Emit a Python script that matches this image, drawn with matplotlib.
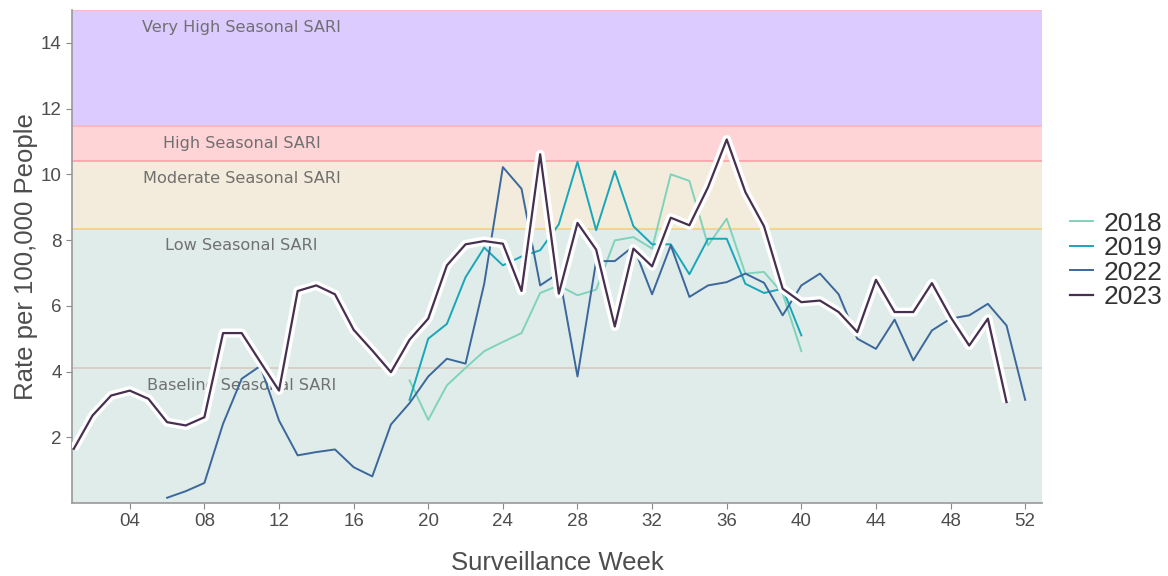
import matplotlib.pyplot as plt
import numpy as np

# weekly SARI rates per 100,000 people
weeks_2018 = list(range(19, 41))
rate_2018 = [3.73, 2.53, 3.58, 4.11, 4.62, 4.90, 5.17, 6.39, 6.62, 6.32, 6.49, 7.99,
             8.09, 7.74, 10.0, 9.80, 7.84, 8.65, 6.98, 7.03, 6.37, 4.62]

weeks_2019 = list(range(19, 41))
rate_2019 = [3.14, 5.00, 5.45, 6.87, 7.77, 7.23, 7.50, 7.69, 8.48, 10.38, 8.30, 10.10,
             8.42, 7.87, 7.87, 6.96, 8.04, 8.04, 6.67, 6.39, 6.52, 5.10]

weeks_2022 = list(range(6, 53))
rate_2022 = [0.16, 0.36, 0.61, 2.41, 3.78, 4.17, 2.51, 1.45, 1.55, 1.63, 1.09, 0.81,
             2.39, 3.04, 3.85, 4.39, 4.24, 6.67, 10.22, 9.56, 6.62, 7.00, 3.85, 7.36,
             7.36, 7.81, 6.35, 7.84, 6.27, 6.62, 6.72, 6.98, 6.70, 5.71, 6.62, 6.98,
             6.35, 5.00, 4.69, 5.58, 4.34, 5.25, 5.61, 5.71, 6.06, 5.40, 3.14]

weeks_2023 = list(range(1, 52))
rate_2023 = [1.65, 2.66, 3.27, 3.42, 3.17, 2.46, 2.36, 2.61, 5.17, 5.17, 4.29, 3.42,
             6.45, 6.62, 6.35, 5.27, 4.64, 3.98, 4.97, 5.61, 7.23, 7.87, 7.97, 7.89,
             6.45, 10.61, 6.37, 8.52, 7.71, 5.37, 7.74, 7.20, 8.68, 8.45, 9.61, 11.06,
             9.46, 8.42, 6.52, 6.11, 6.16, 5.81, 5.20, 6.79, 5.81, 5.81, 6.69, 5.66,
             4.79, 5.61, 3.07]

# activity thresholds
band_names = ['Baseline Seasonal SARI', 'Low Seasonal SARI', 'Moderate Seasonal SARI',
              'High Seasonal SARI', 'Very High Seasonal SARI']
band_edges = [0, 4.1, 8.35, 10.4, 11.47, 15]
band_label_y = [3.58, 7.84, 9.88, 10.94, 14.47]

fills = ['#e0ecea', '#e0ecea', '#f3ecdc', '#ffd4d6', '#dccbff']
edges = ['#d6cbc0', '#f2d27a', '#ff9ea6', '#ffb3bc', '#ffb3bc']

plt.rcParams['font.family'] = 'Liberation Sans'
fig = plt.figure(figsize=(11.68, 5.76), dpi=100)
ax = fig.add_axes([0.0616, 0.1267, 0.8305, 0.856])

for i in range(len(band_names)):
    ax.axhspan(band_edges[i], band_edges[i + 1], color=fills[i], lw=0, zorder=0)
    ax.axhline(band_edges[i + 1], color=edges[i], lw=1.2, zorder=0.5)
    ax.text(10, band_label_y[i], band_names[i], ha='center', va='center',
            fontsize=11.6, color='#707070', family='DejaVu Sans', zorder=1)

ax.plot(weeks_2018, rate_2018, color='#7fd3bb', lw=1.4, label='2018', zorder=2)
ax.plot(weeks_2019, rate_2019, color='#18a6b9', lw=1.4, label='2019', zorder=2)
ax.plot(weeks_2022, rate_2022, color='#3b679a', lw=1.4, label='2022', zorder=2)
ax.plot(weeks_2023, rate_2023, color='white', lw=6.5, solid_capstyle='butt', zorder=3)
ax.plot(weeks_2023, rate_2023, color='#47304f', lw=1.6, label='2023', zorder=4)

ax.set_xlim(0.9, 52.9)
ax.set_ylim(0, 15)
ax.set_xticks(np.arange(4, 53, 4))
ax.set_xticklabels(['%02d' % w for w in range(4, 53, 4)])
ax.set_yticks(np.arange(2, 15, 2))
ax.tick_params(labelsize=13.5, colors='#4d4d4d', length=4, color='#888888')

for side in ['top', 'right']:
    ax.spines[side].set_visible(False)
for side in ['left', 'bottom']:
    ax.spines[side].set_color('#999999')
    ax.spines[side].set_linewidth(1.2)

ax.set_xlabel('Surveillance Week', fontsize=18.5, color='#4d4d4d', labelpad=15)
ax.set_ylabel('Rate per 100,000 People', fontsize=18.5, color='#4d4d4d', labelpad=2)

fig.legend(*ax.get_legend_handles_labels(), loc='center left',
           bbox_to_anchor=(0.905, 0.548), frameon=False, borderpad=0,
           fontsize=19, handlelength=0.85, labelspacing=0.02, handletextpad=0.4,
           labelcolor='#333333')

plt.savefig('out.png', dpi=100)
